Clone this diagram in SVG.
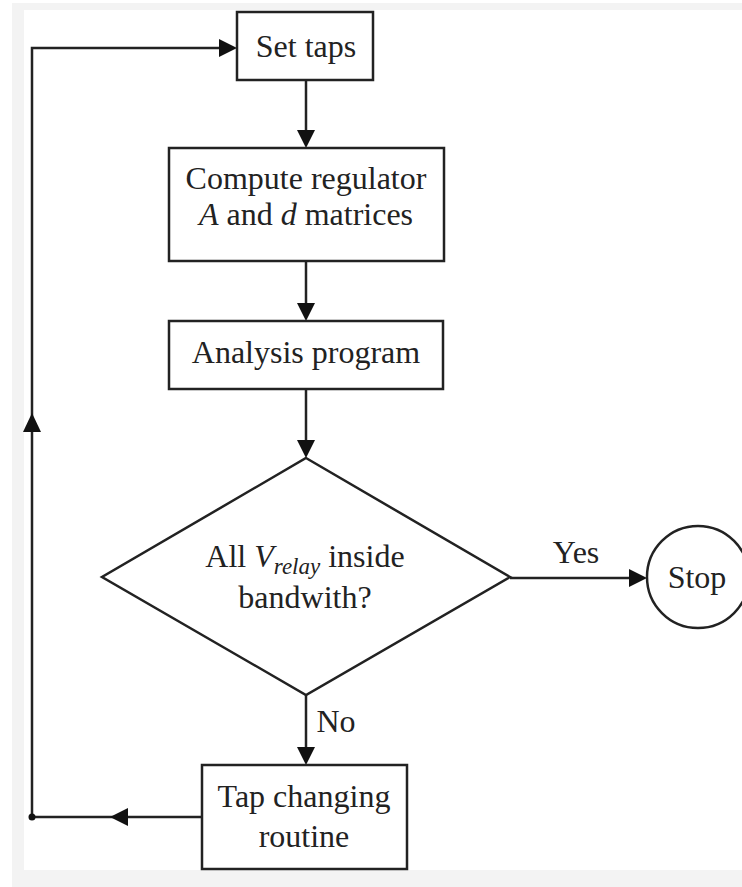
<svg xmlns="http://www.w3.org/2000/svg" width="742" height="887" viewBox="0 0 742 887">
<style>
.box{fill:#fff;stroke:#222;stroke-width:2.5}
.ln{fill:none;stroke:#222;stroke-width:2.5}
.t{font-family:"Liberation Serif",serif;font-size:32px;fill:#222;text-anchor:middle}
.ah{fill:#111}
</style>
<rect x="0" y="0" width="742" height="887" fill="#fff"/>
<rect x="12" y="3" width="730" height="884" fill="#f3f3f3"/>
<rect x="24" y="10" width="718" height="860" fill="#fff"/>
<g id="connectors">
<path class="ln" d="M306 80 V130"/><path class="ah" d="M297 130 L315 130 L306 148 Z"/>
<path class="ln" d="M306 261 V303"/><path class="ah" d="M297 303 L315 303 L306 321 Z"/>
<path class="ln" d="M306 389 V440"/><path class="ah" d="M297 440 L315 440 L306 458 Z"/>
<path class="ln" d="M510 578 H629"/><path class="ah" d="M629 569 L629 587 L647 578 Z"/>
<path class="ln" d="M306 695 V747"/><path class="ah" d="M297 747 L315 747 L306 765 Z"/>
<path class="ln" d="M202 817 H32 V48 H219"/>
<path class="ah" d="M128 808 L128 826 L110 817 Z"/>
<path class="ah" d="M23 432 L41 432 L32 413 Z"/>
<path class="ah" d="M219 39 L219 57 L237 48 Z"/>
<circle cx="32" cy="817" r="3.5" fill="#111"/>
<text class="t" x="576" y="563">Yes</text>
<text class="t" x="336" y="732">No</text>
</g>
<g id="set-taps">
<rect class="box" x="237" y="12" width="136" height="68"/>
<text class="t" x="306" y="57">Set taps</text>
</g>
<g id="compute">
<rect class="box" x="169" y="148" width="275" height="113"/>
<text class="t" x="306" y="189">Compute regulator</text>
<text class="t" x="306" y="225"><tspan font-style="italic">A</tspan> and <tspan font-style="italic">d</tspan> matrices</text>
</g>
<g id="analysis">
<rect class="box" x="169" y="321" width="274" height="68"/>
<text class="t" x="306" y="363">Analysis program</text>
</g>
<g id="decision">
<path class="box" d="M306 458 L510 577 L306 695 L102 577 Z"/>
<text class="t" x="305" y="567">All <tspan font-style="italic">V</tspan><tspan font-style="italic" font-size="23" dy="7">relay</tspan><tspan dy="-7"> inside</tspan></text>
<text class="t" x="305" y="608">bandwith?</text>
</g>
<g id="stop">
<circle class="box" cx="698" cy="577" r="51"/>
<text class="t" x="697" y="588">Stop</text>
</g>
<g id="tap-changing">
<rect class="box" x="202" y="765" width="205" height="104"/>
<text class="t" x="304" y="807">Tap changing</text>
<text class="t" x="304" y="847">routine</text>
</g>
</svg>
